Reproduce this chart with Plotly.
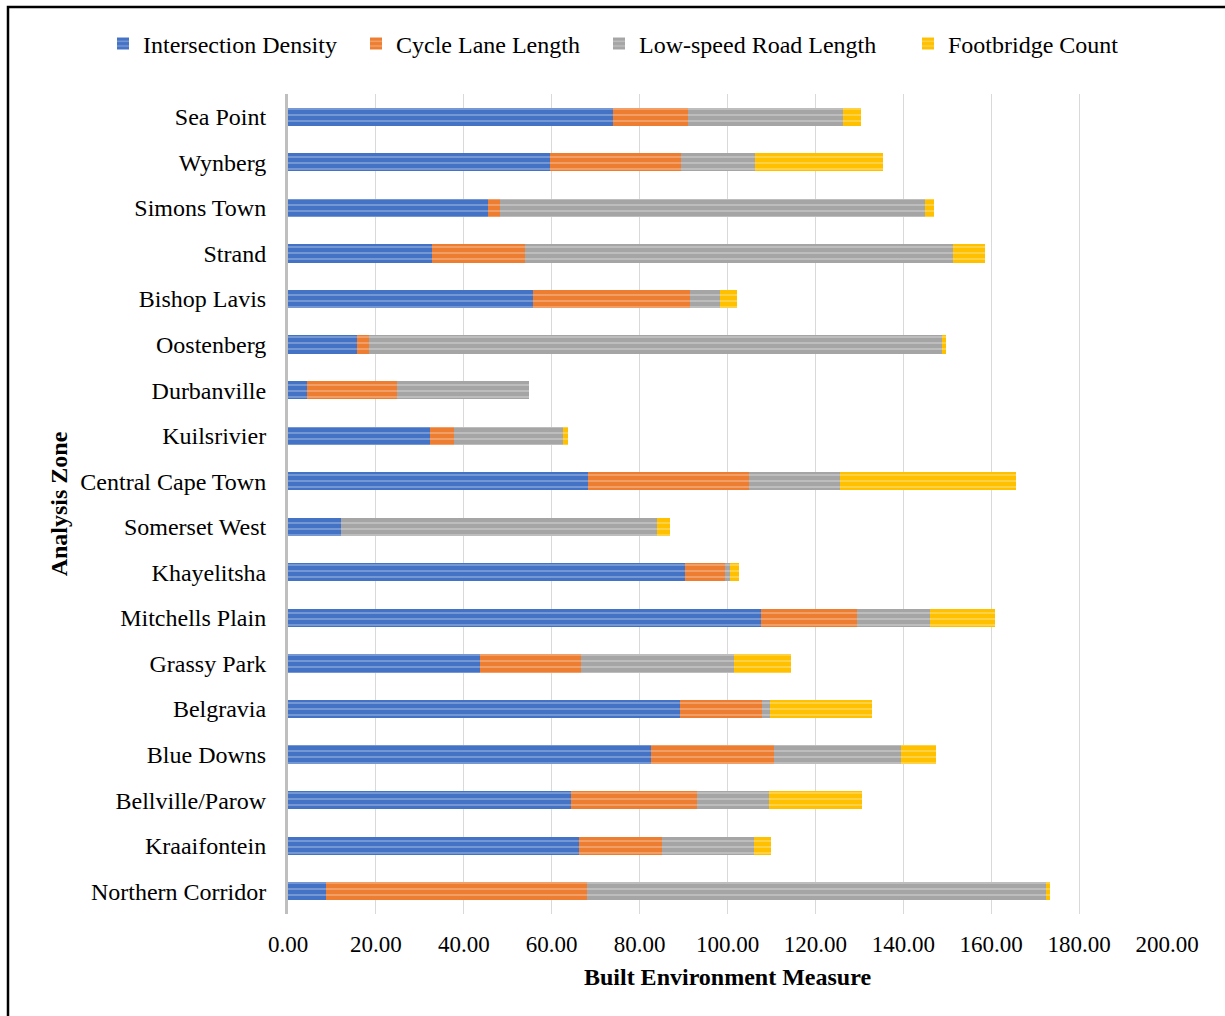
import plotly.graph_objects as go

zones = ["Sea Point", "Wynberg", "Simons Town", "Strand", "Bishop Lavis", "Oostenberg",
         "Durbanville", "Kuilsrivier", "Central Cape Town", "Somerset West", "Khayelitsha",
         "Mitchells Plain", "Grassy Park", "Belgravia", "Blue Downs", "Bellville/Parow",
         "Kraaifontein", "Northern Corridor"]

intersection_density = [74.0, 59.5, 45.5, 32.7, 55.7, 15.6, 4.3, 32.3, 68.3, 12.0, 90.3,
                        107.6, 43.6, 89.1, 82.6, 64.5, 66.2, 8.6]
cycle_lane_length = [16.9, 29.9, 2.7, 21.3, 35.7, 2.9, 20.5, 5.4, 36.7, 0.0, 9.2,
                     21.9, 23.0, 18.8, 28.0, 28.5, 18.8, 59.4]
low_speed_road_length = [35.3, 16.9, 96.8, 97.3, 6.8, 130.3, 30.0, 24.8, 20.5, 72.0, 1.0,
                         16.5, 34.9, 1.8, 28.8, 16.5, 21.0, 104.5]
footbridge_count = [4.2, 29.1, 1.9, 7.2, 4.0, 0.9, 0.0, 1.2, 40.2, 2.9, 2.1,
                    14.9, 13.0, 23.1, 8.0, 21.0, 3.9, 0.9]

series = [
    ("Intersection Density", intersection_density, "#4472C4"),
    ("Cycle Lane Length", cycle_lane_length, "#ED7D31"),
    ("Low-speed Road Length", low_speed_road_length, "#A5A5A5"),
    ("Footbridge Count", footbridge_count, "#FFC000"),
]
# legend text start positions (px) in the reference
legend_text_x = [145, 398, 641, 950]

FONT = "Liberation Serif, Times New Roman, serif"

W, H = 1225, 1016
L, R, T, B = 288, 1225 - 1167, 94, 1016 - 914
pw, ph = W - L - R, H - T - B

fig = go.Figure()
legend_names = ["legend", "legend2", "legend3", "legend4"]
for i, (name, vals, col) in enumerate(series):
    fig.add_trace(go.Bar(
        y=zones, x=vals, name=name, orientation="h", width=0.4,
        legend=legend_names[i], showlegend=True,
        marker=dict(color=col, line=dict(width=0),
                    pattern=dict(shape="-", size=6, solidity=0.25,
                                 fgcolor="white", fgopacity=0.35, bgcolor=col)),
    ))

legend_common = dict(orientation="h", xref="container", yref="container",
                     xanchor="left", yanchor="middle", y=1 - 44 / H,
                     bgcolor="rgba(0,0,0,0)", borderwidth=0, itemwidth=30,
                     font=dict(family=FONT, size=24, color="black"))
legend_layout = {}
for i, ln in enumerate(legend_names):
    legend_layout[ln] = dict(legend_common, x=(legend_text_x[i] - 42) / W)

fig.update_layout(
    barmode="stack",
    showlegend=True,
    width=W, height=H,
    margin=dict(l=L, r=R, t=T, b=B, autoexpand=False),
    paper_bgcolor="white", plot_bgcolor="white",
    font=dict(family=FONT, size=24, color="black"),
    xaxis=dict(range=[0, 200], dtick=20, tickformat=".2f", showgrid=True,
               gridcolor="#D9D9D9", gridwidth=1.3, zeroline=False, showline=False,
               ticks="", ticklabelstandoff=14,
               tickfont=dict(family=FONT, size=23, color="black"),
               title=dict(text="<b>Built Environment Measure</b>", standoff=12,
                          font=dict(family=FONT, size=24, color="black"))),
    yaxis=dict(autorange="reversed", showgrid=False, zeroline=False,
               showline=True, linecolor="#BFBFBF", linewidth=3, ticks="",
               ticklabelstandoff=14,
               tickfont=dict(family=FONT, size=24, color="black"),
               title=dict(text="<b>Analysis Zone</b>", standoff=6,
                          font=dict(family=FONT, size=24, color="black"))),
    shapes=[dict(type="rect", xref="paper", yref="paper",
                 x0=(8 - L) / pw, x1=1.2, y0=-0.3, y1=(914 - 7) / ph,
                 line=dict(color="black", width=2.5), fillcolor="rgba(0,0,0,0)",
                 layer="below")],
    **legend_layout,
)

fig.write_html("out.html")
